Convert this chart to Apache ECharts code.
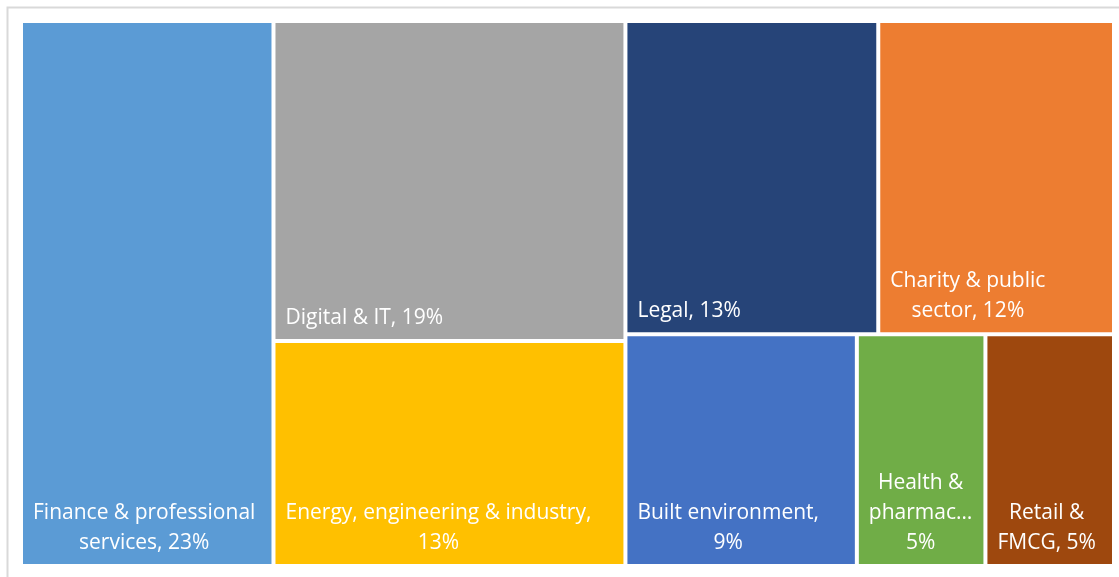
<!DOCTYPE html>
<html>
<head>
<meta charset="utf-8">
<script src="https://cdn.jsdelivr.net/npm/echarts@6/dist/echarts.min.js"></script>
<style>
  html, body { margin: 0; padding: 0; background: #fff; }
  #chart { width: 1119px; height: 577px; }
</style>
</head>
<body>
<div id="chart"></div>
<script>
// ---- data ----
const categories = [
  'Finance & professional services',
  'Digital & IT',
  'Energy, engineering & industry',
  'Legal',
  'Charity & public sector',
  'Built environment',
  'Health & pharmaceuticals',
  'Retail & FMCG'
];
const values = [23.1, 18.9, 13.3, 13.3, 12.4, 9.0, 5.0, 5.0];
// label text as wrapped in the reference ({p} = rounded percentage)
const labelTexts = [
  'Finance & professional\nservices, {p}%',
  'Digital & IT, {p}%',
  'Energy, engineering & industry,\n{p}%',
  'Legal, {p}%',
  'Charity & public\nsector, {p}%',
  'Built environment,\n{p}%',
  'Health &\npharmac\u2026\n{p}%',
  'Retail &\nFMCG, {p}%'
];
const colors = ['#5B9BD5', '#A5A5A5', '#FFC000', '#264478', '#ED7D31', '#4472C4', '#70AD47', '#9E480E'];
// grouping of category indices (treemap nesting)
const layoutGroups = [0, [1, 2], [[3, 4], [5, 6, 7]]];

// ---- build ----
const FONT_SIZE = 21;
const FONT_FAMILY = 'Open Sans';
const measureCtx = document.createElement('canvas').getContext('2d');
measureCtx.font = FONT_SIZE + 'px "' + FONT_FAMILY + '"';

function leaf(i) {
  const text = labelTexts[i].replace('{p}', Math.round(values[i]));
  const w = Math.max.apply(null, text.split('\n').map(l => measureCtx.measureText(l).width));
  return {
    name: categories[i],
    value: values[i],
    itemStyle: { color: colors[i], borderColor: '#fff', borderWidth: 2 },
    label: { formatter: text, offset: [10 + w / 2, -1] }
  };
}
function build(node) {
  if (typeof node === 'number') return leaf(node);
  return { name: '', children: node.map(build) };
}
const treeData = layoutGroups.map(build);

const chart = echarts.init(document.getElementById('chart'), null, { renderer: 'canvas' });
chart.setOption({
  animation: false,
  backgroundColor: '#fff',
  graphic: [{
    type: 'rect',
    shape: { x: 7.5, y: 7.5, width: 1130, height: 590 },
    style: { fill: 'none', stroke: '#D9D9D9', lineWidth: 2 },
    silent: true
  }],
  series: [{
    type: 'treemap',
    left: 21, top: 21, width: 1093, height: 545,
    sort: false,
    squareRatio: 1,
    roam: false,
    nodeClick: false,
    breadcrumb: { show: false },
    itemStyle: { borderWidth: 0, gapWidth: 0, borderColor: '#fff' },
    upperLabel: { show: false },
    label: {
      show: true,
      position: 'insideBottomLeft',
      distance: 0,
      align: 'center',
      verticalAlign: 'bottom',
      color: '#fff',
      fontFamily: FONT_FAMILY,
      fontSize: FONT_SIZE,
      lineHeight: 30,
      overflow: 'none'
    },
    emphasis: { disabled: true },
    data: treeData
  }]
});
</script>
</body>
</html>
